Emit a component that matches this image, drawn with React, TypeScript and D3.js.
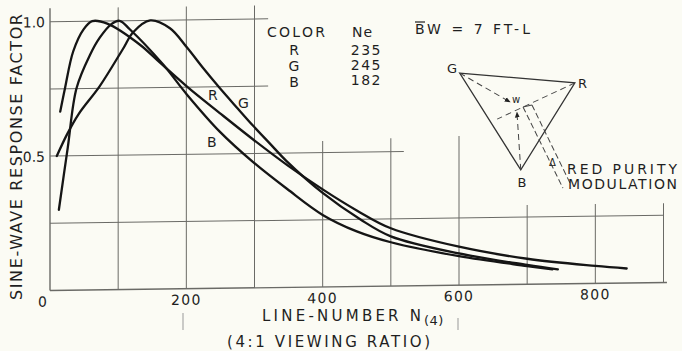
import { useEffect, useRef } from "react";
import * as d3 from "d3";

// sine-wave response vs line number: [line number, response]
const redCurve: [number, number][] = [
  [15, 0.665], [22, 0.752], [34, 0.888], [49, 0.969], [62, 1.0], [84, 0.99],
  [132, 0.91], [161, 0.843], [201, 0.752], [249, 0.652], [298, 0.552], [348, 0.455],
  [400, 0.363], [450, 0.283], [500, 0.215], [600, 0.143], [700, 0.095], [800, 0.065], [846, 0.054],
];
const greenCurve: [number, number][] = [
  [10, 0.5], [25, 0.58], [42, 0.655], [73, 0.758], [107, 0.895], [122, 0.957], [147, 1.0],
  [176, 0.97], [201, 0.897], [224, 0.822], [249, 0.745], [274, 0.672], [298, 0.603],
  [323, 0.535], [347, 0.47], [400, 0.35], [455, 0.25], [500, 0.185], [600, 0.118],
  [700, 0.072], [745, 0.054],
];
const blueCurve: [number, number][] = [
  [13, 0.3], [26, 0.53], [39, 0.752], [59, 0.876], [73, 0.938], [90, 0.988], [102, 1.0],
  [117, 0.968], [166, 0.835], [201, 0.722], [249, 0.583], [298, 0.468], [348, 0.366],
  [400, 0.268], [450, 0.205], [500, 0.163], [600, 0.108], [700, 0.068], [737, 0.054],
];

const xTicks = [0, 200, 400, 600, 800];
const yTicks = [1.0, 0.5];

const legendColors = ["R", "G", "B"];
const legendNe = ["235", "245", "182"];

// the grid is only partly drawn: [position, how far the line goes]
const vGrid: [number, number][] = [
  [0, 1.05], [100, 1.05], [200, 1.05], [300, 1.05], [400, 0.543],
  [500, 0.55], [600, 0.555], [700, 0.295], [800, 0.295], [900, 0.295],
];
const hGrid: [number, number][] = [[1, 320], [0.75, 320], [0.5, 519], [0.25, 900], [0, 905]];

// colour triangle inset, in chart units
const triangle: [number, number][] = [[601, 0.789], [770, 0.747], [690.6, 0.426]];
const toWhite: [number, number][][] = [
  [[601, 0.789], [675, 0.679]],
  [[690.6, 0.426], [685, 0.641]],
];
const fromRed: [number, number][] = [[770, 0.747], [656, 0.616]];
const purity: [number, number][][] = [
  [[693.9, 0.66], [752.5, 0.356]],
  [[707, 0.667], [762.8, 0.375]],
];

const Chart = () => {
  const svgRef = useRef<SVGSVGElement>(null);

  useEffect(() => {
    const svg = d3.select(svgRef.current).attr("width", 682).attr("height", 351);
    svg.selectAll("*").remove();

    const ink = "#1f1f1f";
    const font = "'DejaVu Sans', sans-serif";

    svg.append("rect").attr("width", 682).attr("height", 351).attr("fill", "#fbfbf4");

    const x = d3.scaleLinear().domain([0, 900]).range([50, 663.5]);
    const y = d3.scaleLinear().domain([0, 1]).range([290.5, 21.7]);

    // the scan is slightly sheared, the right side sits higher
    const g = svg
      .append("g")
      .attr("transform", `translate(0,${0.013 * 50}) skewY(${(-Math.atan(0.013) * 180) / Math.PI})`);

    vGrid.forEach(([n, top]) => {
      g.append("line")
        .attr("x1", x(n)).attr("x2", x(n))
        .attr("y1", y(0)).attr("y2", y(top))
        .attr("stroke", "#6a6a66")
        .attr("stroke-width", n === 0 ? 1.4 : 1);
    });
    hGrid.forEach(([r, right]) => {
      g.append("line")
        .attr("x1", x(0)).attr("x2", x(right))
        .attr("y1", y(r)).attr("y2", y(r))
        .attr("stroke", "#6a6a66")
        .attr("stroke-width", r === 0 ? 1.4 : 1);
    });

    const line = d3
      .line<[number, number]>()
      .x((d) => x(d[0]))
      .y((d) => y(d[1]))
      .curve(d3.curveCatmullRom.alpha(0.5));

    [redCurve, greenCurve, blueCurve].forEach((c) => {
      g.append("path")
        .attr("d", line(c))
        .attr("fill", "none")
        .attr("stroke", "#151515")
        .attr("stroke-width", 2.3)
        .attr("stroke-linecap", "round");
    });

    // tick labels
    g.selectAll(".xt")
      .data(xTicks)
      .enter()
      .append("text")
      .attr("x", (d) => (d === 0 ? x(d) - 7 : x(d)))
      .attr("y", y(0) + 16)
      .attr("text-anchor", "middle")
      .attr("font-family", font)
      .attr("font-size", 14)
      .attr("letter-spacing", 1.3)
      .attr("fill", ink)
      .text((d) => d);
    g.selectAll(".yt")
      .data(yTicks)
      .enter()
      .append("text")
      .attr("x", x(0) - 5)
      .attr("y", (d) => y(d) + 5.5)
      .attr("text-anchor", "end")
      .attr("font-family", font)
      .attr("font-size", 14)
      .attr("fill", ink)
      .text((d) => d.toFixed(1));

    // triangle inset
    const seg = d3.line<[number, number]>().x((d) => x(d[0])).y((d) => y(d[1]));
    g.append("path")
      .attr("d", seg(triangle) + "Z")
      .attr("fill", "none")
      .attr("stroke", "#333")
      .attr("stroke-width", 1.3);

    svg.append("defs")
      .append("marker")
      .attr("id", "arr")
      .attr("viewBox", "0 0 10 10")
      .attr("refX", 9).attr("refY", 5)
      .attr("markerWidth", 6).attr("markerHeight", 6)
      .attr("orient", "auto")
      .append("path")
      .attr("d", "M0,1 L10,5 L0,9 Z")
      .attr("fill", "#222");

    toWhite.forEach((s) => {
      g.append("path")
        .attr("d", seg(s))
        .attr("stroke", "#444")
        .attr("stroke-width", 1)
        .attr("stroke-dasharray", "6,4")
        .attr("marker-end", "url(#arr)");
    });
    g.append("path")
      .attr("d", seg(fromRed))
      .attr("stroke", "#444")
      .attr("stroke-width", 1)
      .attr("stroke-dasharray", "6,4");
    purity.forEach((s) => {
      g.append("path")
        .attr("d", seg(s))
        .attr("stroke", "#444")
        .attr("stroke-width", 1)
        .attr("stroke-dasharray", "6,3");
    });
    g.append("path")
      .attr("d", seg([purity[0][0], purity[1][0]]))
      .attr("stroke", "#444")
      .attr("stroke-width", 1);

    // free text, placed as on the sheet
    const label = (t: string, px: number, py: number, size = 14, anchor = "start", len?: number) => {
      const el = svg
        .append("text")
        .attr("x", px)
        .attr("y", py)
        .attr("text-anchor", anchor)
        .attr("font-family", font)
        .attr("font-size", size)
        .attr("fill", ink)
        .text(t);
      if (len) el.attr("textLength", len).attr("lengthAdjust", "spacing");
      return el;
    };

    svg.append("text")
      .attr("transform", "translate(22,157) rotate(-90)")
      .attr("text-anchor", "middle")
      .attr("font-family", font)
      .attr("font-size", 16)
      .attr("fill", ink)
      .attr("textLength", 286)
      .attr("lengthAdjust", "spacing")
      .text("SINE-WAVE RESPONSE FACTOR");

    label("LINE-NUMBER N", 262, 321, 15, "start", 159);
    label("(4)", 424, 325, 13).attr("letter-spacing", 0.5);
    label("(4:1 VIEWING RATIO)", 227, 347, 15, "start", 203);

    label("COLOR", 267, 37, 14, "start", 58);
    legendColors.forEach((c, i) => label(c, 294, 55 + i * 16, 14, "middle"));
    label("Ne", 352, 37, 14, "start", 20);
    legendNe.forEach((v, i) => label(v, 382, 55 + i * 15, 14, "end").attr("letter-spacing", 1.5));

    label("BW = 7 FT-L", 415, 34, 14, "start", 115);
    svg.append("line")
      .attr("x1", 415).attr("x2", 425).attr("y1", 22).attr("y2", 22)
      .attr("stroke", ink).attr("stroke-width", 1.2);

    label("R", 208, 100);
    label("G", 238, 108);
    label("B", 207, 147);

    label("G", 447, 73, 13);
    label("R", 578, 88, 13);
    label("B", 522, 187, 13, "middle");
    label("w", 512, 103, 10);
    label("Δ", 549, 166, 10);
    label("RED PURITY", 567, 174, 14, "start", 110);
    label("MODULATION", 568, 189, 14, "start", 109);

    // stray pencil ticks on the sheet
    svg.append("line").attr("x1", 183).attr("x2", 183).attr("y1", 313).attr("y2", 330)
      .attr("stroke", "#999").attr("stroke-width", 1);
    svg.append("line").attr("x1", 458).attr("x2", 458).attr("y1", 318).attr("y2", 330)
      .attr("stroke", "#999").attr("stroke-width", 1);
  }, []);

  return <svg ref={svgRef} style={{ position: "absolute", left: 0, top: 0 }}></svg>;
};

export default function App() {
  return <Chart />;
}
